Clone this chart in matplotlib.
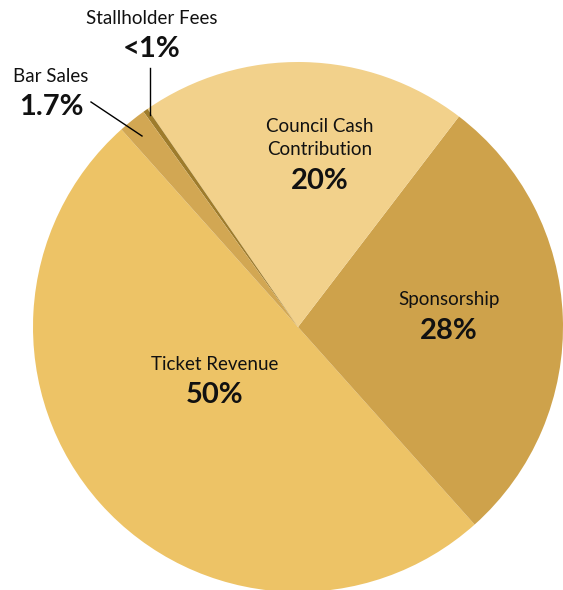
import matplotlib.pyplot as plt

# revenue breakdown, percent
sources = ["Ticket Revenue", "Sponsorship", "Council Cash\nContribution", "Stallholder Fees", "Bar Sales"]
shares = [50, 28, 20, 0.3, 1.7]
share_labels = ["50%", "28%", "20%", "<1%", "1.7%"]
colors = ["#EDC366", "#CEA24B", "#F2D18B", "#9E7C2C", "#D2A753"]

plt.rcParams['font.family'] = ['Lato', 'DejaVu Sans']

fig = plt.figure(figsize=(5.63, 5.90), dpi=100)
ax = fig.add_axes([0, 0, 1, 1])

cx, cy, r = 298, 590 - 327, 265
ax.pie(shares, colors=colors, startangle=131.8, counterclock=True,
       center=(cx, cy), radius=r, frame=True,
       wedgeprops=dict(linewidth=0))
ax.set_xlim(0, 563)
ax.set_ylim(0, 590)
ax.set_aspect('equal')
ax.axis('off')

name_kw = dict(ha='center', va='center', fontsize=13.5, color='#111111')
pct_kw = dict(ha='center', va='center', fontsize=21, fontweight='bold', color='#111111')

# inside labels
ax.text(320, 590 - 138, sources[2], linespacing=1.45, **name_kw)
ax.text(320, 590 - 181, share_labels[2], **pct_kw)
ax.text(449, 590 - 300, sources[1], **name_kw)
ax.text(449, 590 - 331, share_labels[1], **pct_kw)
ax.text(215, 590 - 364, sources[0], **name_kw)
ax.text(215, 590 - 395, share_labels[0], **pct_kw)

# outside labels with leader lines
ax.text(152, 590 - 18, sources[3], **name_kw)
ax.text(152, 590 - 49, share_labels[3], **pct_kw)
ax.plot([150, 150], [590 - 68, 590 - 115], color='black', lw=1)

ax.text(51, 590 - 76, sources[4], **name_kw)
ax.text(51, 590 - 107, share_labels[4], **pct_kw)
ax.plot([91, 142], [590 - 102, 590 - 136], color='black', lw=1)

fig.savefig("out.png", dpi=100)
